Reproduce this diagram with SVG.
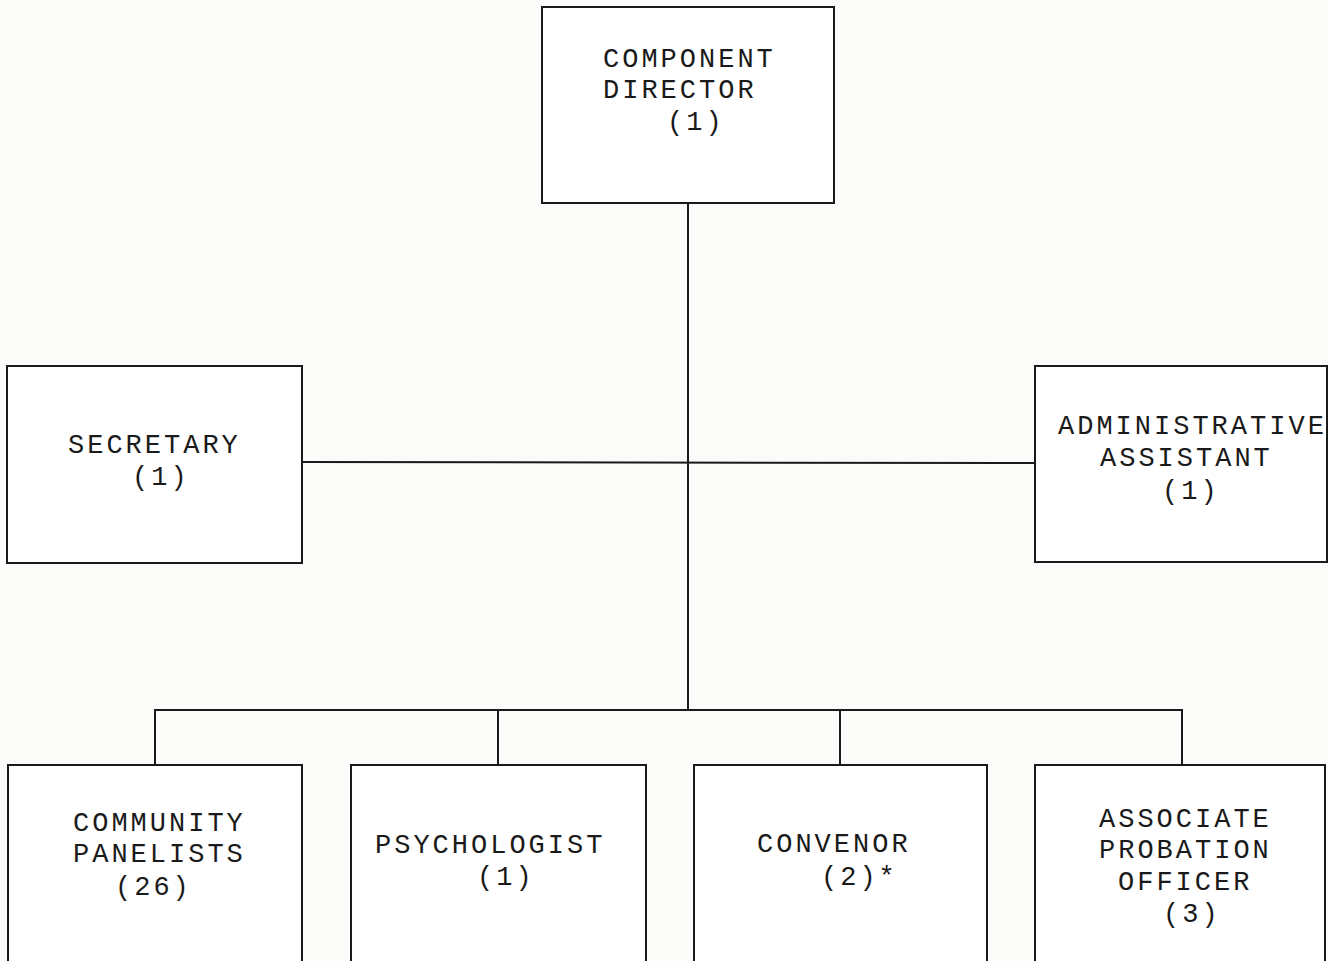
<svg xmlns="http://www.w3.org/2000/svg" width="1328" height="961" viewBox="0 0 1328 961">
<style>
.box{fill:#ffffff;stroke:#1a1a1a;stroke-width:2}
.ln{fill:none;stroke:#1a1a1a;stroke-width:2}
text{font-family:"Liberation Mono","Courier New",monospace;font-size:27px;letter-spacing:3px;fill:#1a1a1a}
</style>
<rect width="1328" height="961" fill="#fbfbfa"/>
<g id="connectors">
<line class="ln" x1="688" y1="203" x2="688" y2="710"/>
<line class="ln" x1="302" y1="462" x2="1035" y2="463"/>
<line class="ln" x1="155" y1="710" x2="1182" y2="710"/>
<line class="ln" x1="155" y1="709" x2="155" y2="765"/>
<line class="ln" x1="498" y1="709" x2="498" y2="765"/>
<line class="ln" x1="840" y1="709" x2="840" y2="765"/>
<line class="ln" x1="1182" y1="709" x2="1182" y2="765"/>
</g>
<g id="director">
<rect class="box" x="542" y="7" width="292" height="196"/>
<text x="603" y="67">COMPONENT</text>
<text x="603" y="98">DIRECTOR</text>
<text x="667" y="130">(1)</text>
</g>
<g id="secretary">
<rect class="box" x="7" y="366" width="295" height="197"/>
<text x="68" y="453">SECRETARY</text>
<text x="132" y="485">(1)</text>
</g>
<g id="admin-assistant">
<rect class="box" x="1035" y="366" width="292" height="196"/>
<text x="1058" y="434">ADMINISTRATIVE</text>
<text x="1100" y="466">ASSISTANT</text>
<text x="1162" y="499">(1)</text>
</g>
<g id="community-panelists">
<rect class="box" x="8" y="765" width="294" height="210"/>
<text x="73" y="831">COMMUNITY</text>
<text x="73" y="862">PANELISTS</text>
<text x="115" y="895">(26)</text>
</g>
<g id="psychologist">
<rect class="box" x="351" y="765" width="295" height="210"/>
<text x="375" y="853">PSYCHOLOGIST</text>
<text x="477" y="885">(1)</text>
</g>
<g id="convenor">
<rect class="box" x="694" y="765" width="293" height="210"/>
<text x="757" y="852">CONVENOR</text>
<text x="821" y="885">(2)*</text>
</g>
<g id="associate-probation-officer">
<rect class="box" x="1035" y="765" width="290" height="210"/>
<text x="1099" y="827">ASSOCIATE</text>
<text x="1099" y="858">PROBATION</text>
<text x="1118" y="890">OFFICER</text>
<text x="1163" y="922">(3)</text>
</g>
</svg>
